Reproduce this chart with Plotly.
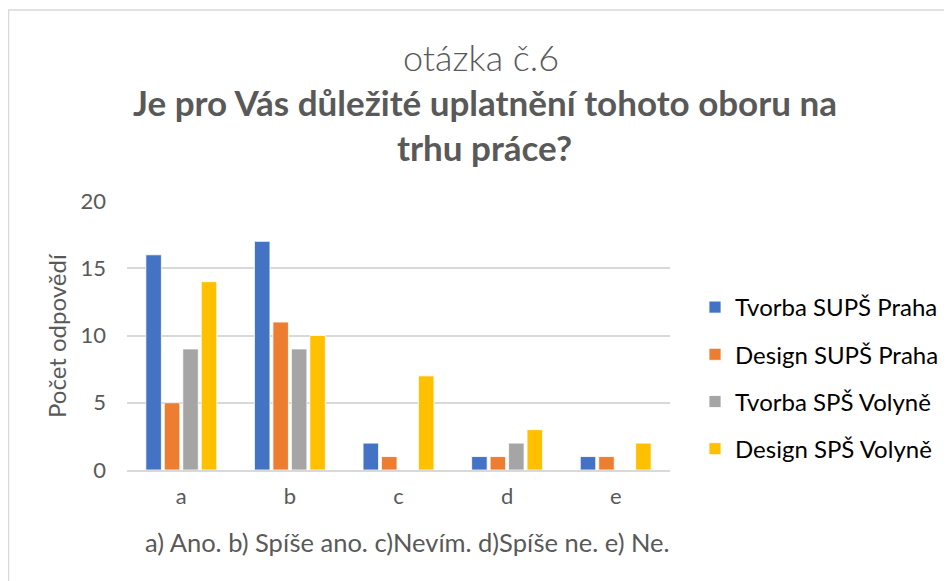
import plotly.graph_objects as go

categories = ["a", "b", "c", "d", "e"]
series_names = ["Tvorba SUPŠ Praha", "Design SUPŠ Praha", "Tvorba SPŠ Volyně", "Design SPŠ Volyně"]
tvorba_supš = [16, 17, 2, 1, 1]
design_supš = [5, 11, 1, 1, 1]
tvorba_sps = [9, 9, 0, 2, 0]
design_sps = [14, 10, 7, 3, 2]
colors = ["#4472C4", "#ED7D31", "#A5A5A5", "#FFC000"]
y_ticks = [0, 5, 10, 15, 20]

FONT = "Lato"
TXT = "#595959"

# plot area in figure pixels (page has an 8px body margin)
L, R, T, B = 119, 662, 193, 462
W, H = 944, 573

def px(x):
    return (x - L) / (R - L)

def py(y):
    return (B - y) / (B - T)

fig = go.Figure()
for i, (name, vals) in enumerate(zip(series_names, [tvorba_supš, design_supš, tvorba_sps, design_sps])):
    fig.add_trace(go.Bar(
        x=categories, y=vals, name=name, legendgroup=str(i),
        marker=dict(color=colors[i], line=dict(color="white", width=0.8)),
    ))

fig.update_layout(
    width=W, height=H,
    margin=dict(l=L, r=W - R, t=T, b=H - B, autoexpand=False),
    paper_bgcolor="white", plot_bgcolor="white",
    barmode="group", bargap=0.32, bargroupgap=0.16,
    font=dict(family=FONT, color=TXT),
    showlegend=True,
    legend=dict(
        x=px(687), y=py(277), xanchor="left", yanchor="top",
        font=dict(size=24, color="#000000", family=FONT),
        tracegroupgap=13, traceorder="grouped",
        itemwidth=30,
    ),
    xaxis=dict(
        showgrid=False, showline=True, linecolor="#d9d9d9", linewidth=1.5,
        ticks="outside", ticklen=6, tickcolor="rgba(0,0,0,0)",
        tickfont=dict(size=22, color=TXT),
    ),
    yaxis=dict(
        range=[0, 20], tickvals=y_ticks, showgrid=True, gridcolor="#d9d9d9", gridwidth=1.5,
        zeroline=False, showline=False, ticks="",
        tickfont=dict(size=22, color=TXT), ticklabelstandoff=20,
    ),
)

def note(text, x, y, size, weight=None, angle=0):
    f = dict(size=size, color=TXT, family=FONT)
    if weight:
        f["weight"] = weight
    fig.add_annotation(text=text, xref="paper", yref="paper", x=px(x), y=py(y),
                       xanchor="center", yanchor="middle", textangle=angle,
                       showarrow=False, font=f)

# titles
note("otázka č.6", 473, 49, 36, weight=300)
note("<b>Je pro Vás důležité uplatnění tohoto oboru na</b>", 477, 94, 35)
note("<b>trhu práce?</b>", 476, 139, 35)
note("Počet odpovědí", 48, 328, 24, angle=-90)
note("a) Ano. b) Spíše ano. c)Nevím. d)Spíše ne. e) Ne.", 399, 534, 25.5)

# chart border
fig.add_shape(type="rect", xref="paper", yref="paper",
              x0=px(0.5), y0=py(600), x1=px(960), y1=py(2),
              line=dict(color="#d9d9d9", width=1.5), fillcolor="rgba(0,0,0,0)", layer="below")

fig.write_html("out.html")
